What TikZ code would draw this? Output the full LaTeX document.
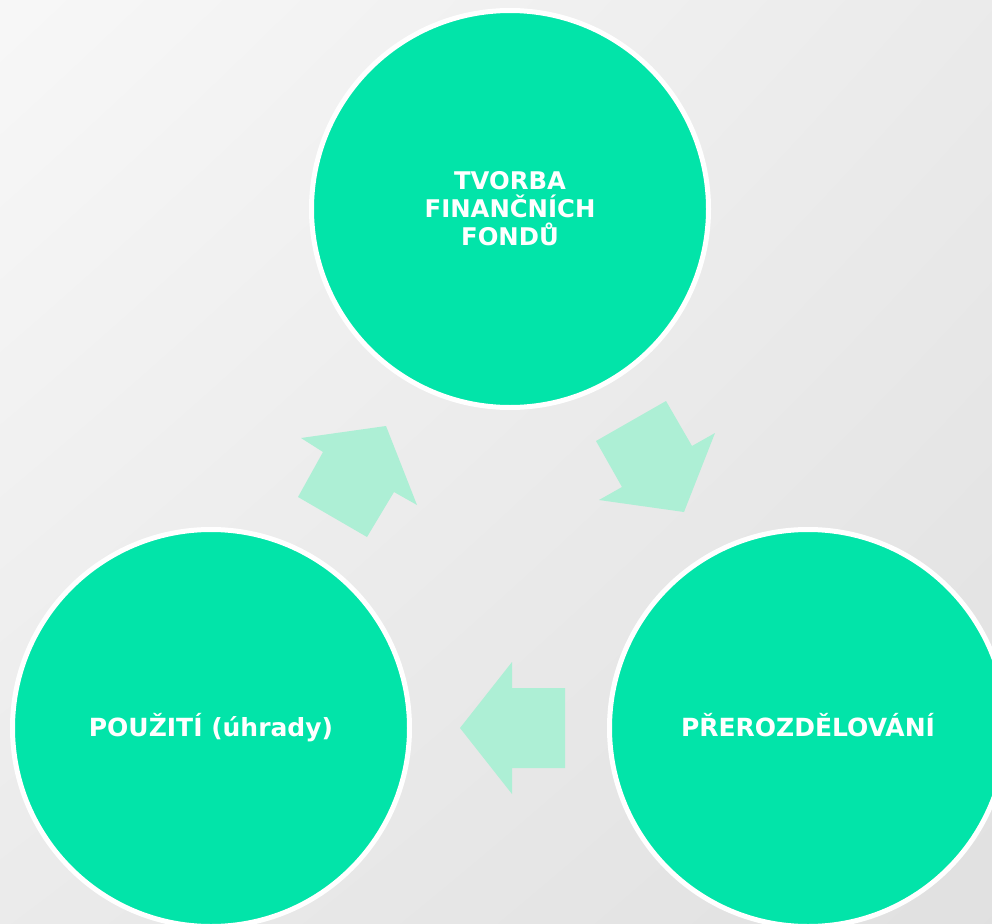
\documentclass[tikz,border=0pt]{standalone}
\usepackage{fontspec}
\usetikzlibrary{shadings}
\setsansfont{DejaVu Sans}
\definecolor{fundgreen}{HTML}{02E4A9}
\definecolor{flowgreen}{HTML}{ADEFD5}
\begin{document}
\begin{tikzpicture}[x=0.75pt,y=-0.75pt,
    fund/.style={circle,draw=white,line width=3.75pt,fill=fundgreen,
      minimum size=297.75pt,inner sep=0pt,text=white,align=center},
    fundbig/.style={fund,font=\sffamily\bfseries\fontsize{18.75pt}{22pt}\selectfont},
    fundsmall/.style={fund,font=\sffamily\bfseries\fontsize{18.25pt}{21pt}\selectfont},
    flow/.style={fill=flowgreen}]
   \useasboundingbox (0,0) rectangle (992,924);
   \clip (0,0) rectangle (992,924);
   \shade[upper left=black!3,upper right=black!8,lower left=black!8,lower right=black!12]
     (0,0) rectangle (992,924);
   \node[fundsmall] (tvorba) at (510,209) {TVORBA\\FINANČNÍCH\\FONDŮ};
   \node[fundbig,text height=13.7pt] (prerozdeleni) at (808,728) {PŘEROZDĚLOVÁNÍ};
   \node[fundbig] (pouziti) at (211,728) {POUŽITÍ (úhrady)};
   \fill[flow] (596,441) -- (666,401) -- (692,446) -- (715,433) -- (684,512)
     -- (599,500) -- (622,487) -- cycle;
   \fill[flow] (512,662) -- (512,688) -- (565,688) -- (565,768) -- (512,768)
     -- (512,794) -- (460,728) -- cycle;
   \fill[flow] (301,438) -- (386,426) -- (417,505) -- (394,492) -- (367,537)
     -- (298,497) -- (323,452) -- cycle;
\end{tikzpicture}
\end{document}
